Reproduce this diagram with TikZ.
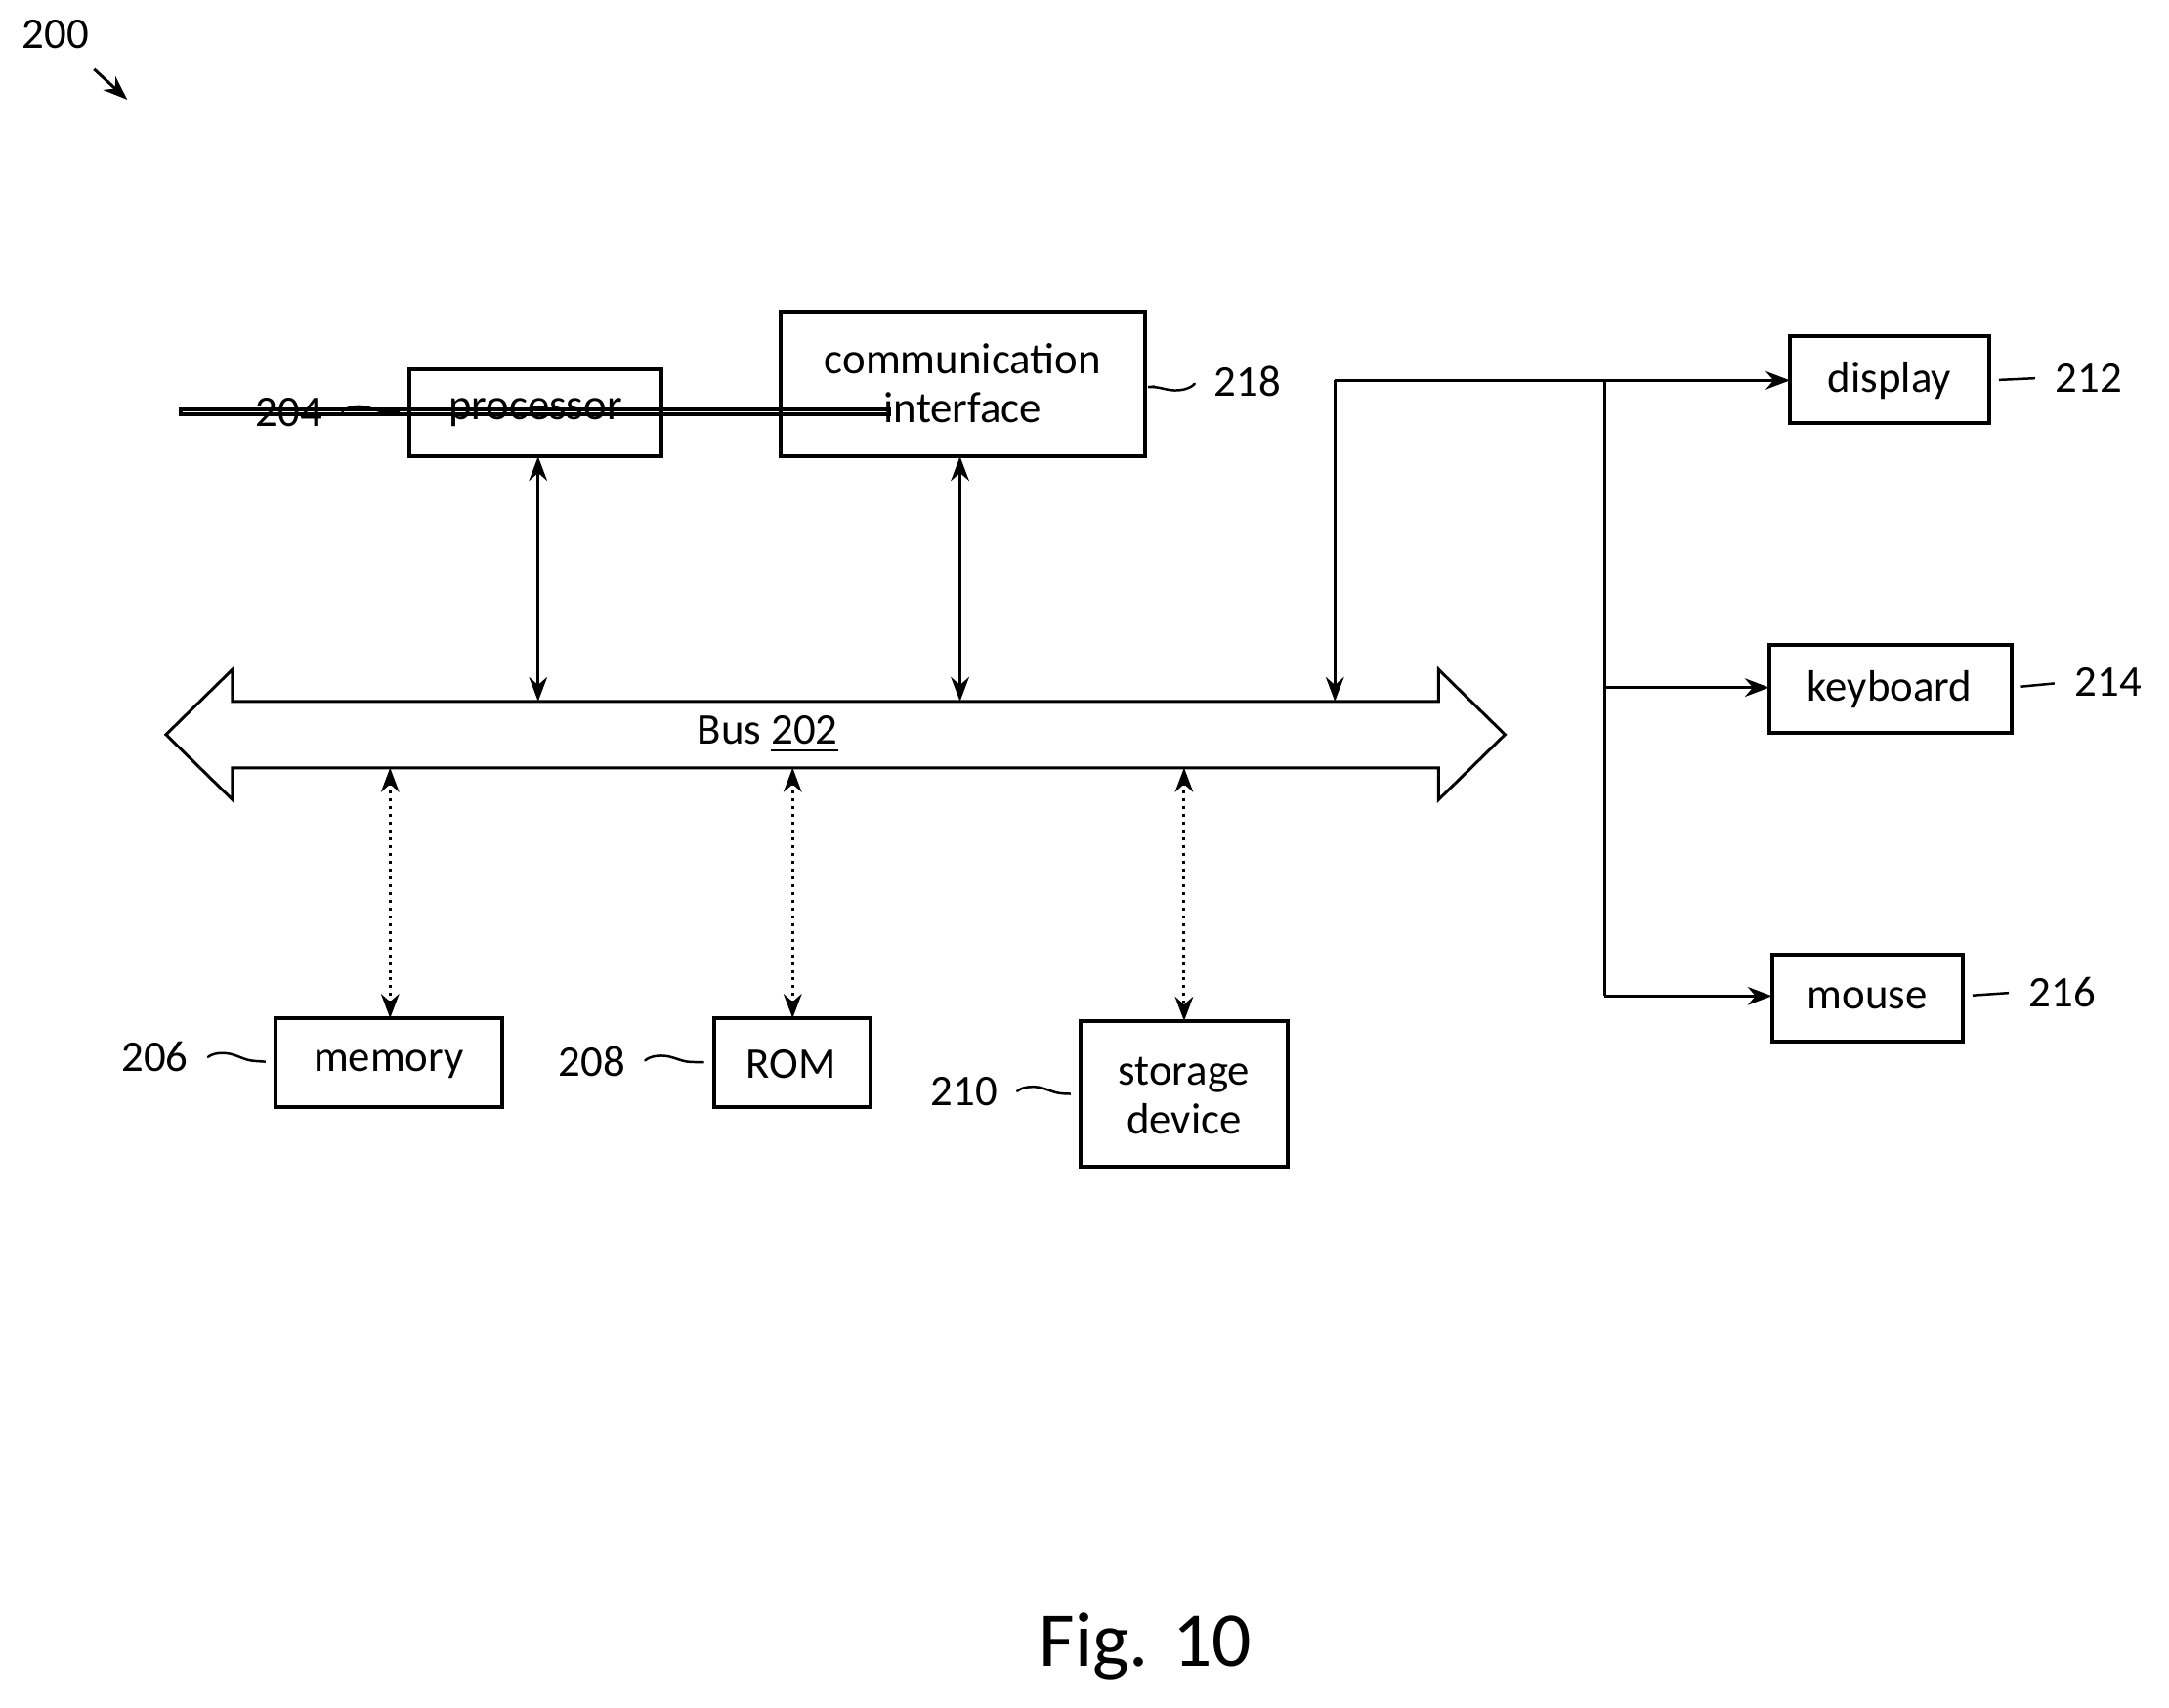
\documentclass[tikz,border=0pt]{standalone}
\usepackage{fontspec}
\setmainfont{Carlito}
\usetikzlibrary{arrows.meta,decorations.pathmorphing}
\begin{document}
\begin{tikzpicture}[x=0.01cm,y=-0.01cm,
 box/.style={draw,line width=0.8pt,inner sep=0pt,font=\fontsize{9}{11}\selectfont,align=center},
 lab/.style={font=\fontsize{9}{11}\selectfont,inner sep=1pt},
 ar/.style={line width=0.6pt,-{Stealth[length=5pt]}},
 dar/.style={line width=0.6pt,{Stealth[length=5pt]}-{Stealth[length=5pt]}},
 dot/.style={dar,densely dotted},
 tilde/.style={line width=0.5pt,decorate,decoration={snake,amplitude=1.2pt,segment length=20pt},shorten <=3pt,shorten >=2pt}]
\useasboundingbox (0,0) rectangle (1568,1234);
% boxes
\node[box,minimum width=182\pgflinewidth,text width=1.7cm] (proc) at (387,298) {};
\path[draw,line width=0.8pt] (296,267) rectangle (478,330);
\node[font=\fontsize{9}{11}\selectfont] (proct) at (387,298) {processor};
\draw[line width=0.8pt] (564,225) rectangle (828,330);
\node[font=\fontsize{9}{11}\selectfont,align=center] (comm) at (696,277) {communication\\[-1pt]interface};
\draw[line width=0.8pt] (1294,243) rectangle (1438,306);
\node[font=\fontsize{9}{11}\selectfont] (disp) at (1366,275) {display};
\draw[line width=0.8pt] (1279,466) rectangle (1454,530);
\node[font=\fontsize{9}{11}\selectfont] (kbd) at (1366,498) {keyboard};
\draw[line width=0.8pt] (1281,690) rectangle (1419,753);
\node[font=\fontsize{9}{11}\selectfont] (mouse) at (1350,722) {mouse};
\draw[line width=0.8pt] (199,736) rectangle (363,800);
\node[font=\fontsize{9}{11}\selectfont] (mem) at (281,769) {memory};
\draw[line width=0.8pt] (516,736) rectangle (629,800);
\node[font=\fontsize{9}{11}\selectfont] (rom) at (572,769) {ROM};
\draw[line width=0.8pt] (781,738) rectangle (931,843);
\node[font=\fontsize{9}{11}\selectfont,align=center] (stor) at (856,792) {storage\\[-1pt]device};
% bus
\draw[line width=0.6pt] (168,507) -- (168,484) -- (120,531) -- (168,578) -- (168,555) -- (1040,555) -- (1040,578) -- (1088,531) -- (1040,484) -- (1040,507) -- cycle;
\node[font=\fontsize{9}{11}\selectfont] (bus) at (555,531) {Bus \underline{202}};
% vertical connectors
\coordinate (b1) at (389,507); \coordinate (p1) at (389,330);
\coordinate (b2) at (694,507); \coordinate (p2) at (694,330);
\coordinate (b3) at (282,555); \coordinate (p3) at (282,736);
\coordinate (b4) at (573,555); \coordinate (p4) at (573,736);
\coordinate (b5) at (856,555); \coordinate (p5) at (856,738);
\draw[dar] (p1) -- (b1);
\draw[dar] (p2) -- (b2);
\draw[dot] (b3) -- (p3);
\draw[dot] (b4) -- (p4);
\draw[dot] (b5) -- (p5);
% io
\coordinate (b6) at (965,507); \coordinate (c6) at (965,275);
\coordinate (j) at (1160,275);
\coordinate (dl) at (1294,275); \coordinate (kl) at (1279,497); \coordinate (ml) at (1281,720);
\draw[line width=0.6pt,-{Stealth[length=5pt]}] (c6) -- (b6);
\draw[ar] (c6) -- (dl);
\draw[line width=0.6pt] (j) -- (1160,720);
\draw[ar] (1160,497) -- (kl);
\draw[ar] (1160,720) -- (ml);
% labels
\node[lab] (l200) at (40,25) {200};
\draw[ar] (68,50) -- (92,72);
\node[lab] (l204) at (209,298) {204};
\node[lab] (l218) at (902,276) {218};
\node[lab] (l212) at (1510,273) {212};
\node[lab] (l214) at (1524,493) {214};
\node[lab] (l216) at (1491,717) {216};
\node[lab] (l206) at (112,764) {206};
\node[lab] (l208) at (428,767) {208};
\node[lab] (l210) at (697,789) {210};
\coordinate (e204) at (296,298); \coordinate (e218) at (828,280);
\coordinate (e212) at (1438,275); \coordinate (e214) at (1454,497);
\coordinate (e216) at (1419,720); \coordinate (e206) at (199,768);
\coordinate (e208) at (516,768); \coordinate (e210) at (781,791);
\draw[tilde] (l204.east) -- (e204);
\draw[tilde] (l206.east) -- (e206);
\draw[tilde] (l208.east) -- (e208);
\draw[tilde] (l210.east) -- (e210);
\draw[tilde] (l218.west) -- (e218);
\draw[tilde] (l212.west) -- (e212);
\draw[tilde] (l214.west) -- (e214);
\draw[tilde] (l216.west) -- (e216);
\node[font=\fontsize{16}{18}\selectfont] (fig) at (828,1190) {Fig. 10};
\end{tikzpicture}
\end{document}
